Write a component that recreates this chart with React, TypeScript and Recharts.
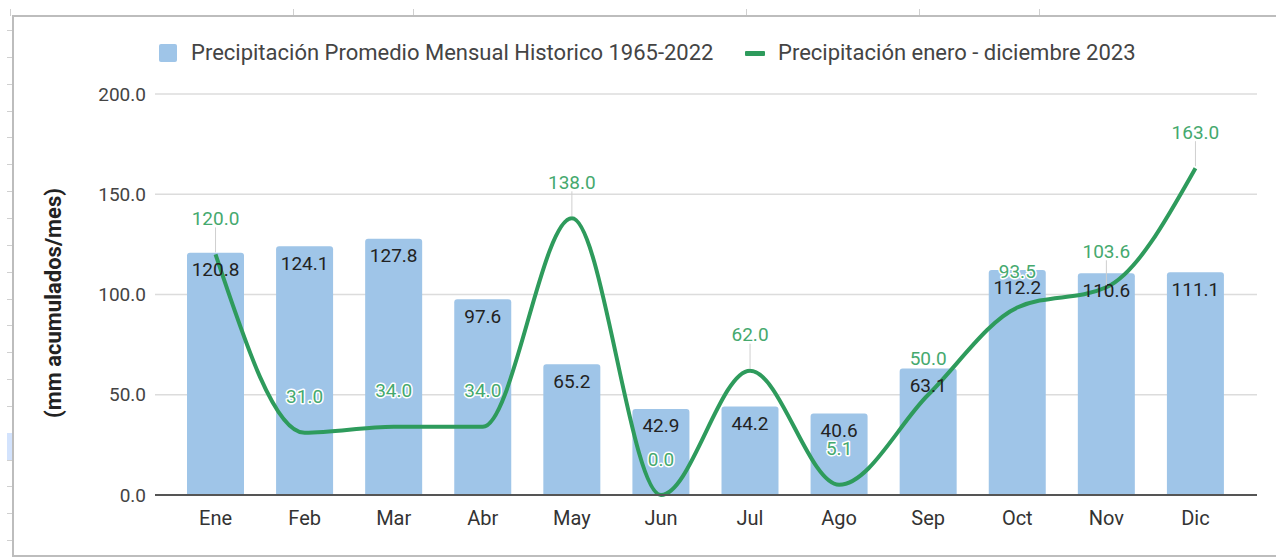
import { ComposedChart, Bar, Line, XAxis, YAxis, CartesianGrid, LabelList } from 'recharts'

const months = ['Ene', 'Feb', 'Mar', 'Abr', 'May', 'Jun', 'Jul', 'Ago', 'Sep', 'Oct', 'Nov', 'Dic']
const historico = [120.8, 124.1, 127.8, 97.6, 65.2, 42.9, 44.2, 40.6, 63.1, 112.2, 110.6, 111.1]
const lluvia2023 = [120.0, 31.0, 34.0, 34.0, 138.0, 0.0, 62.0, 5.1, 50.0, 93.5, 103.6, 163.0]
const yTicks = [0, 50, 100, 150, 200]

const serieHist = 'Precipitación Promedio Mensual Historico 1965-2022'
const serie2023 = 'Precipitación enero - diciembre 2023'

const data = months.map((m, i) => ({ mes: m, hist: historico[i], y2023: lluvia2023[i] }))

const BAR = '#9fc5e8'
const GREEN = '#2e9b5c'
const GREEN_TXT = '#45a96e'
const FONT = 'Roboto, "Noto Sans", sans-serif'

// spreadsheet rows peeking out at the left edge
const rowLines = Array.from({ length: 20 }, (_, i) => 30 + i * 26.85)
const colLines = [10, 293, 413, 746, 919, 1039]

const barLabel = (p: any) => {
  const { x, y, width, value } = p
  return (
    <text x={x + width / 2} y={y + 17} textAnchor="middle" dominantBaseline="central"
      fontSize={19} fontFamily={FONT} fill="#222">
      {Number(value).toFixed(1)}
    </text>
  )
}

const lineLabel = (p: any) => {
  const { x, y, value, index } = p
  const outside = value + 12 > historico[index]
  return (
    <g>
      {outside && <line x1={x} x2={x} y1={y - 27} y2={y - 2} stroke="#cfcfcf" strokeWidth={1} />}
      <text x={x} y={y - 36} textAnchor="middle" dominantBaseline="central" fontSize={19}
        fontFamily={FONT} fill={GREEN_TXT} stroke="#fff" strokeWidth={3} paintOrder="stroke"
        strokeLinejoin="round">
        {Number(value).toFixed(1)}
      </text>
    </g>
  )
}

export default function App() {
  return (
    <div style={{ position: 'absolute', left: 0, top: 0, width: 1276, height: 558, background: '#fff', fontFamily: FONT, overflow: 'hidden' }}>
      {rowLines.map((y, i) => (
        <div key={'r' + i} style={{ position: 'absolute', left: 7, top: y, width: 6, height: 1, background: '#d0d0d0' }} />
      ))}
      <div style={{ position: 'absolute', left: 7, top: 433, width: 6, height: 27, background: '#d3e3fd' }} />
      {colLines.map((x, i) => (
        <div key={'c' + i} style={{ position: 'absolute', left: x, top: 9, width: 1, height: 7, background: '#d0d0d0' }} />
      ))}
      <div style={{ position: 'absolute', left: 12, top: 15, width: 1270, height: 538, borderTop: '2px solid #bdbdbd', borderLeft: '2px solid #bdbdbd', borderBottom: '2px solid #bdbdbd' }} />

      <div style={{ position: 'absolute', left: 159, top: 44, width: 18, height: 18, background: BAR, borderRadius: 2 }} />
      <div style={{ position: 'absolute', left: 191, top: 39, fontSize: 22, lineHeight: '28px', color: '#444', whiteSpace: 'nowrap' }}>{serieHist}</div>
      <div style={{ position: 'absolute', left: 745, top: 51, width: 20, height: 5, background: GREEN, borderRadius: 1 }} />
      <div style={{ position: 'absolute', left: 778, top: 39, fontSize: 22, lineHeight: '28px', color: '#444', whiteSpace: 'nowrap' }}>{serie2023}</div>

      <div style={{ position: 'absolute', left: 0, top: 0 }}>
        <ComposedChart width={1276} height={558} data={data} margin={{ top: 94, right: 19, bottom: 33, left: 75 }}>
          <CartesianGrid vertical={false} stroke="#dcdcdc" strokeWidth={1.5} />
          <XAxis dataKey="mes" padding={{ left: 16, right: 17 }} height={30}
            axisLine={{ stroke: '#555', strokeWidth: 2 }} tickLine={false} tickSize={6} tickMargin={10}
            tick={{ fontSize: 20, fill: '#333', fontFamily: FONT }} />
          <YAxis domain={[0, 200]} ticks={yTicks} width={80} axisLine={false} tickLine={false}
            tickSize={6} tickMargin={3} tickFormatter={(v: number) => v.toFixed(1)}
            tick={{ fontSize: 19, fill: '#444', fontFamily: FONT }}
            label={{
              content: () => (
                <text x={53} y={303} transform="rotate(-90 53 303)" textAnchor="middle"
                  dominantBaseline="central" fontSize={22} fontWeight="bold" fontFamily={FONT} fill="#222">
                  (mm acumulados/mes)
                </text>
              ),
            }} />
          <Bar dataKey="hist" name={serieHist} fill={BAR} barSize={57} radius={[3, 3, 0, 0]} isAnimationActive={false}>
            <LabelList dataKey="hist" content={barLabel} />
          </Bar>
          <Line dataKey="y2023" name={serie2023} type="monotone" stroke={GREEN} strokeWidth={4} dot={false}
            activeDot={false} isAnimationActive={false}>
            <LabelList dataKey="y2023" content={lineLabel} />
          </Line>
        </ComposedChart>
      </div>
    </div>
  )
}
